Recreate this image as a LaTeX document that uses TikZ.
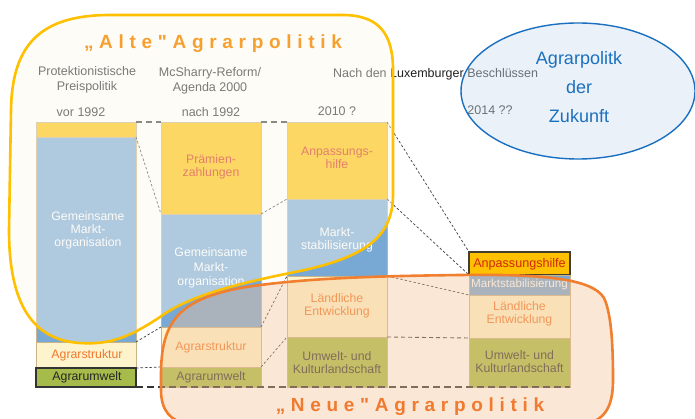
\documentclass[tikz,border=0pt]{standalone}
\usepackage{fontspec}
\setmainfont{Liberation Sans}
\newfontfamily\titlefont{Liberation Sans}[LetterSpace=30]
\definecolor{gold}{HTML}{FFC000}
\definecolor{mblue}{HTML}{78A8D4}
\definecolor{cream}{HTML}{FDF3CC}
\definecolor{agreen}{HTML}{A6BC4A}
\definecolor{boxline}{HTML}{C9B48A}
\definecolor{hdr}{HTML}{202020}
\definecolor{redtxt}{HTML}{D02810}
\definecolor{orgtxt}{HTML}{F07830}
\definecolor{yblob}{HTML}{FCF8EE}
\definecolor{yline}{HTML}{FFC000}
\definecolor{oblob}{HTML}{F5C596}
\definecolor{oline}{HTML}{F08030}
\definecolor{eline}{HTML}{1A70C0}
\definecolor{efill}{HTML}{D0E0F0}
\definecolor{titleA}{HTML}{F5A030}
\definecolor{titleN}{HTML}{EF7A30}
\definecolor{dash}{HTML}{404040}
\begin{document}
\begin{tikzpicture}[x=1pt,y=-1pt,
  box/.style={draw=boxline, line width=0.6pt, inner sep=0pt, outer sep=0pt, anchor=north west, minimum width=100pt},
  hdrtxt/.style={text=hdr, font=\fontsize{12.5}{15}\selectfont, align=center, inner sep=0pt},
  btxt/.style={font=\fontsize{12.3}{13}\selectfont, align=center, inner sep=0pt},
  thin/.style={draw=dash, line width=0.7pt, dash pattern=on 2.5pt off 2pt},
  thick/.style={draw=dash!90!black, line width=1.1pt, dash pattern=on 6pt off 4pt},
  heavy/.style={draw=dash!80!black, line width=1.8pt, dash pattern=on 7pt off 4pt},
  titlef/.style={font=\fontsize{19}{22}\titlefont\bfseries, inner sep=0pt}
]
\useasboundingbox[fill=white] (0,0) rectangle (695,419);

% headers
\node[hdrtxt] (h1) at (87,80) {Protektionistische\\Preispolitik};
\node[hdrtxt] (h1y) at (81,112) {vor 1992};
\node[hdrtxt] (h2) at (210,81) {McSharry-Reform/\\Agenda 2000};
\node[hdrtxt] (h2y) at (211,112) {nach 1992};
\node[hdrtxt, anchor=west] (h3) at (333,74) {Nach den Luxemburger Beschlüssen};
\node[hdrtxt] (h3y) at (337,111) {2010 ?};
\node[hdrtxt] (h4y) at (490,110) {2014 ??};

% column 1
\node[box, fill=gold, minimum height=15pt] (c1a) at (36,122) {};
\node[box, fill=mblue, minimum height=205pt] (c1b) at (36,137) {};
\node[box, fill=cream, minimum height=26pt] (c1c) at (36,342) {};
\node[box, fill=agreen, draw=black!80, line width=1.1pt, minimum height=19pt] (c1d) at (36,368) {};
\node[btxt, text=white] (t1b) at (88,230) {Gemeinsame\\Markt-\\organisation};
\node[btxt, text=orgtxt] (t1c) at (87,355) {Agrarstruktur};
\node[btxt, text=black!85] (t1d) at (87,377) {Agrarumwelt};

% column 2
\node[box, fill=gold, minimum height=92pt] (c2a) at (161,122) {};
\node[box, fill=mblue, minimum height=113pt] (c2b) at (161,214) {};
\node[box, fill=cream, minimum height=40pt] (c2c) at (161,327) {};
\node[box, fill=agreen, minimum height=20pt] (c2d) at (161,367) {};
\node[btxt, text=redtxt] (t2a) at (211,167) {Prämien-\\zahlungen};
\node[btxt, text=white, font=\fontsize{12.3}{14.5}\selectfont] (t2b) at (211,268) {Gemeinsame\\Markt-\\organisation};
\node[btxt, text=orgtxt] (t2c) at (211,347) {Agrarstruktur};
\node[btxt, text=black!80] (t2d) at (211,377) {Agrarumwelt};

% column 3
\node[box, fill=gold, minimum height=77pt] (c3a) at (287,122) {};
\node[box, fill=mblue, minimum height=77pt] (c3b) at (287,199) {};
\node[box, fill=cream, minimum height=61pt] (c3c) at (287,276) {};
\node[box, fill=agreen, minimum height=50pt] (c3d) at (287,337) {};
\node[btxt, text=redtxt] (t3a) at (337,158) {Anpassungs-\\hilfe};
\node[btxt, text=white] (t3b) at (337,240) {Markt-\\stabilisierung};
\node[btxt, text=orgtxt] (t3c) at (337,306) {Ländliche\\Entwicklung};
\node[btxt, text=black!80] (t3d) at (337,363) {Umwelt- und\\Kulturlandschaft};

% column 4
\node[box, fill=gold, draw=black!70!olive, line width=1.1pt, minimum width=101pt, minimum height=23pt] (c4a) at (469,252) {};
\node[box, fill=mblue, minimum width=101pt, minimum height=20pt] (c4b) at (469,275) {};
\node[box, fill=cream, minimum width=101pt, minimum height=43pt] (c4c) at (469,295) {};
\node[box, fill=agreen, minimum width=101pt, minimum height=49pt] (c4d) at (469,338) {};
\node[btxt, text=redtxt, font=\fontsize{12.6}{13}\selectfont] (t4a) at (519.5,264) {Anpassungshilfe};
\node[btxt, text=white, font=\fontsize{11.6}{13}\selectfont] (t4b) at (519.5,285) {Marktstabilisierung};
\node[btxt, text=orgtxt] (t4c) at (519.5,314) {Ländliche\\Entwicklung};
\node[btxt, text=black!80] (t4d) at (519.5,362) {Umwelt- und\\Kulturlandschaft};

% connectors
\draw[thick] (c1a.north east) -- (c2a.north west);
\draw[thick] (c2a.north east) -- (c3a.north west);
\draw[thin] (c1b.north east) -- (c2b.north west);
\draw[thin] (c1b.south east) -- (c2c.north west);
\draw[thin] (c1c.south east) -- (c2d.north west);
\draw[thin] (c2b.north east) -- (c3b.north west);
\draw[thin] (c2c.north east) -- (c3c.north west);
\draw[thin] (c2d.north east) -- (c3d.north west);
\draw[thin] (c3a.north east) -- (c4a.north west);
\draw[thin] (c3b.north east) -- (c4b.north west);
\draw[thin] (c3c.north east) -- (c4c.north west);
\draw[thick, line width=0.9pt, dash pattern=on 4pt off 3pt] (c3d.north east) -- (c4d.north west);
\draw[heavy] (c1d.south east) -- (c4d.south east);

% ellipse
\coordinate (ell) at (578,91);
\draw[draw=eline, line width=1.4pt, fill=efill, fill opacity=0.42] (ell) ellipse [x radius=117, y radius=68];
\node[font=\fontsize{18}{29}\selectfont, text=eline, align=center, inner sep=0pt] (etxt) at (579,87) {Agrarpolitk\\der\\Zukunft};

% yellow blob
\draw[draw=yline, line width=2.6pt, fill=yblob, fill opacity=0.42]
  (393,70) -- (393,195) .. controls (393,240) and (360,258) .. (300,271)
  .. controls (240,283) and (190,295) .. (160,317)
  .. controls (130,337) and (110,345) .. (80,343)
  .. controls (30,340) and (9,300) .. (9,230)
  -- (11,110) .. controls (12,45) and (40,15) .. (110,15)
  -- (345,15) .. controls (380,16) and (393,35) .. (393,70) -- cycle;

% orange blob
\draw[draw=oline, line width=2.6pt, fill=oblob, fill opacity=0.4]
  (161,375) .. controls (161,320) and (180,300) .. (240,288)
  .. controls (300,278) and (380,276) .. (460,275)
  .. controls (540,274) and (592,278) .. (604,298)
  .. controls (612,315) and (613,350) .. (613,380)
  .. controls (613,405) and (606,420) .. (585,424)
  -- (190,424) .. controls (170,422) and (161,410) .. (161,390) -- cycle;

% titles
\node[titlef, text=titleA] (tA) at (213,44) {„Alte"Agrarpolitik};
\node[titlef, text=titleN] (tN) at (410,407) {„Neue"Agrarpolitik};
\end{tikzpicture}
\end{document}
